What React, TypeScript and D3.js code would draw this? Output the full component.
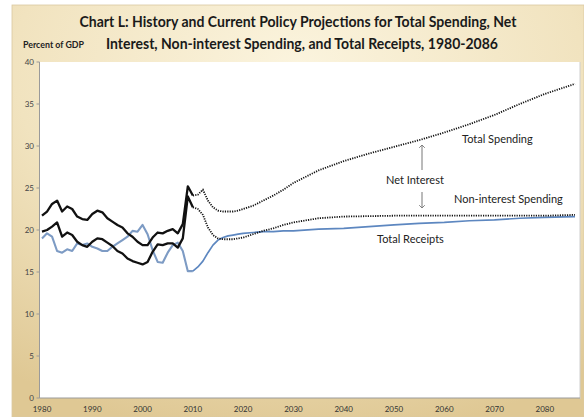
import React from "react";
import * as d3 from "d3";

const histYears = [1980,1981,1982,1983,1984,1985,1986,1987,1988,1989,1990,1991,1992,1993,1994,1995,1996,1997,1998,1999,2000,2001,2002,2003,2004,2005,2006,2007,2008,2009,2010];
const histTotalSpending = [21.7,22.2,23.1,23.5,22.2,22.8,22.5,21.6,21.3,21.2,21.9,22.3,22.1,21.4,21.0,20.6,20.3,19.6,19.2,18.6,18.2,18.2,19.1,19.7,19.6,19.9,20.1,19.6,20.7,25.2,24.1];
const histNonInterest = [19.8,20.0,20.4,20.9,19.2,19.7,19.4,18.6,18.2,18.0,18.6,19.0,18.9,18.5,18.1,17.5,17.2,16.6,16.3,16.1,15.9,16.2,17.4,18.3,18.2,18.4,18.4,17.9,19.0,24.0,22.7];
const histReceipts = [19.0,19.6,19.2,17.5,17.3,17.7,17.5,18.4,18.2,18.4,18.0,17.8,17.5,17.5,18.0,18.4,18.8,19.2,19.9,19.8,20.6,19.5,17.6,16.2,16.1,17.3,18.2,18.5,17.5,15.1,15.1];

const projYears = [2010,2011,2012,2013,2014,2015,2016,2017,2018,2019,2020,2022,2024,2026,2028,2030,2035,2040,2045,2050,2055,2060,2065,2070,2075,2080,2086];
const projTotalSpending = [24.1,24.2,24.8,23.5,22.7,22.3,22.2,22.2,22.2,22.3,22.5,22.9,23.5,24.1,24.8,25.6,27.1,28.2,29.1,29.9,30.7,31.6,32.6,33.7,35.0,36.2,37.4];
const projNonInterest = [22.7,22.5,21.8,20.3,19.4,19.0,18.9,18.9,18.9,19.0,19.1,19.5,19.9,20.2,20.6,20.9,21.4,21.6,21.65,21.7,21.7,21.7,21.7,21.7,21.7,21.7,21.8];
const projReceipts = [15.1,15.6,16.3,17.3,18.2,18.8,19.1,19.3,19.4,19.5,19.6,19.7,19.8,19.8,19.9,19.9,20.1,20.2,20.4,20.6,20.8,20.9,21.1,21.2,21.4,21.5,21.6];

const xTicks = [1980,1990,2000,2010,2020,2030,2040,2050,2060,2070,2080];
const yTicks = [0,5,10,15,20,25,30,35,40];

const titleLines = [
  "Chart L:  History and Current Policy Projections for Total Spending, Net",
  "Interest, Non-interest Spending, and Total Receipts, 1980-2086",
];

const W = 584, H = 417;
const FONT = "Lato, 'Open Sans', sans-serif";

export default function App() {
  const x = d3.scaleLinear().domain([1980, 2086]).range([42, 575]);
  const y = d3.scaleLinear().domain([0, 40]).range([398, 62]);
  const line = (years: number[], vals: number[]) =>
    d3.line<number>().x((_, i) => x(years[i])).y((v) => y(v)).curve(d3.curveLinear)(vals) || "";

  return (
    <svg width={W} height={H} style={{ position: "absolute", left: 0, top: 0, background: "#fff" }}>
      <defs>
        <radialGradient id="bg" cx="0.5" cy="0.15" r="0.9">
          <stop offset="0" stopColor="#fbf4de" />
          <stop offset="0.55" stopColor="#f1e3bf" />
          <stop offset="1" stopColor="#dfc894" />
        </radialGradient>
        <marker id="ah" viewBox="0 0 10 10" refX="5" refY="5" markerWidth="7" markerHeight="7" orient="auto-start-reverse">
          <path d="M1,1 L5,5 L1,9" fill="none" stroke="#777" strokeWidth="1.3" />
        </marker>
      </defs>
      <rect x={12} y={5} width={W - 12} height={H - 5} fill="url(#bg)" stroke="#d9c9a0" strokeWidth={0.8} />
      <rect x={39.5} y={62} width={580 - 39.5} height={398 - 62} fill="#fff" />
      <line x1={580} y1={62} x2={580} y2={399} stroke="#cfcfcf" strokeWidth={1} />
      <line x1={39.5} y1={62} x2={39.5} y2={398} stroke="#9a9a9a" strokeWidth={1} />
      <line x1={39.5} y1={398} x2={580} y2={398} stroke="#9a9a9a" strokeWidth={1} />

      {titleLines.map((t, i) => (
        <text key={i} x={i === 0 ? 298 : 302} y={i === 0 ? 27 : 49} textAnchor="middle"
          fontFamily={FONT} fontWeight={700} fontSize={14.5} fill="#1a1a1a"
          textLength={i === 0 ? 437 : 392} lengthAdjust="spacingAndGlyphs">{t}</text>
      ))}
      <text x={23} y={48} fontFamily={FONT} fontWeight={700} fontSize={9.5} fill="#222" textLength={61} lengthAdjust="spacingAndGlyphs">Percent of GDP</text>

      {yTicks.map((t) => (
        <g key={t}>
          <line x1={36.5} x2={39.5} y1={y(t)} y2={y(t)} stroke="#9a9a9a" />
          <text x={34} y={y(t) + 2.8} textAnchor="end" fontFamily={FONT} fontSize={8} fill="#444">{t}</text>
        </g>
      ))}
      {xTicks.map((t) => (
        <text key={t} x={x(t)} y={412} textAnchor="middle" fontFamily={FONT} fontSize={8} fill="#333">{t}</text>
      ))}

      <path d={line(histYears, histReceipts)} fill="none" stroke="#7d9bc4" strokeWidth={2.1} strokeLinejoin="round" />
      <path d={line(projYears, projReceipts)} fill="none" stroke="#5d87c0" strokeWidth={1.7} strokeLinejoin="round" />
      <path d={line(histYears, histTotalSpending)} fill="none" stroke="#111" strokeWidth={2.3} strokeLinejoin="round" />
      <path d={line(histYears, histNonInterest)} fill="none" stroke="#111" strokeWidth={2.3} strokeLinejoin="round" />
      <path d={line(projYears, projTotalSpending)} fill="none" stroke="#111" strokeWidth={1.8} strokeDasharray="1.2 1.2" />
      <path d={line(projYears, projNonInterest)} fill="none" stroke="#111" strokeWidth={1.8} strokeDasharray="1.2 1.2" />

      <line x1={422} y1={170} x2={422} y2={145} stroke="#777" strokeWidth={1} markerEnd="url(#ah)" />
      <line x1={422} y1={192} x2={422} y2={208} stroke="#777" strokeWidth={1} markerEnd="url(#ah)" />

      <text x={462} y={143} fontFamily={FONT} fontSize={11} fill="#222">Total Spending</text>
      <text x={386} y={184} fontFamily={FONT} fontSize={11} fill="#222">Net Interest</text>
      <text x={454} y={203} fontFamily={FONT} fontSize={11} fill="#222">Non-interest Spending</text>
      <text x={377} y={243} fontFamily={FONT} fontSize={11} fill="#222">Total Receipts</text>
    </svg>
  );
}
